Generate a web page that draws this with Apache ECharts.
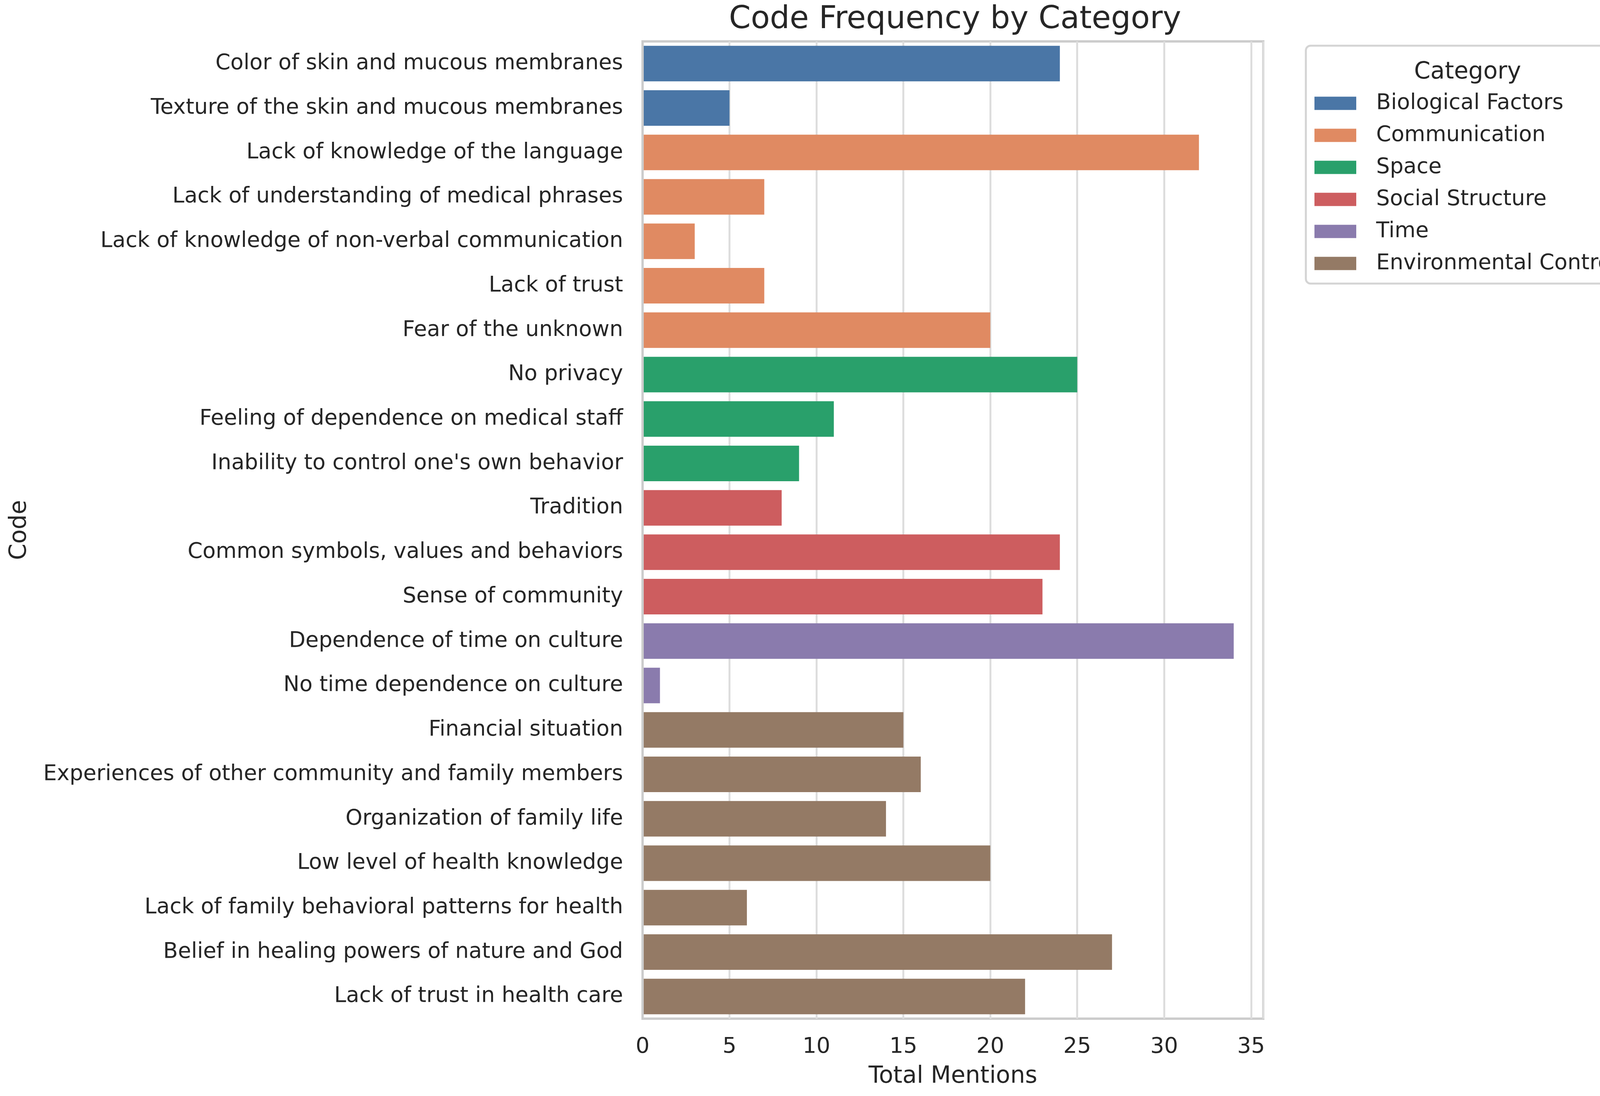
<!DOCTYPE html>
<html lang="en">
<head>
    <meta charset="UTF-8">
    <title>Code Frequency by Category</title>
    <script src="https://cdn.jsdelivr.net/npm/echarts@6/dist/echarts.min.js"></script>
    <style>
        html, body { margin: 0; padding: 0; background: #fff; }
        #main { width: 4184px; height: 2806px; }
    </style>
</head>
<body>
<div id="main"></div>

<script type="text/javascript">
    // codes, top to bottom
    var codes = [
        'Color of skin and mucous membranes',
        'Texture of the skin and mucous membranes',
        'Lack of knowledge of the language',
        'Lack of understanding of medical phrases',
        'Lack of knowledge of non-verbal communication',
        'Lack of trust',
        'Fear of the unknown',
        'No privacy',
        'Feeling of dependence on medical staff',
        "Inability to control one's own behavior",
        'Tradition',
        'Common symbols, values and behaviors',
        'Sense of community',
        'Dependence of time on culture',
        'No time dependence on culture',
        'Financial situation',
        'Experiences of other community and family members',
        'Organization of family life',
        'Low level of health knowledge',
        'Lack of family behavioral patterns for health',
        'Belief in healing powers of nature and God',
        'Lack of trust in health care'
    ];
    var codeCategory = [
        'Biological Factors', 'Biological Factors',
        'Communication', 'Communication', 'Communication', 'Communication', 'Communication',
        'Space', 'Space', 'Space',
        'Social Structure', 'Social Structure', 'Social Structure',
        'Time', 'Time',
        'Environmental Control', 'Environmental Control', 'Environmental Control',
        'Environmental Control', 'Environmental Control', 'Environmental Control',
        'Environmental Control'
    ];
    var mentions = [24, 5, 32, 7, 3, 7, 20, 25, 11, 9, 8, 24, 23, 34, 1, 15, 16, 14, 20, 6, 27, 22];

    var categories = ['Biological Factors', 'Communication', 'Space', 'Social Structure', 'Time', 'Environmental Control'];
    var colors = ['#4a76a6', '#e08a62', '#29a06b', '#cd5d5f', '#8a7bad', '#947a65'];

    var xTicks = [0, 5, 10, 15, 20, 25, 30, 35];

    var font = 'DejaVu Sans';
    var ink = '#262626';

    var myChart = echarts.init(document.getElementById('main'));

    // one series per category so the legend gets one entry each
    var series = [];
    for (var c = 0; c < categories.length; c++) {
        var vals = [];
        for (var i = 0; i < codes.length; i++) {
            vals.push(codeCategory[i] === categories[c] ? mentions[i] : '-');
        }
        series.push({
            name: categories[c],
            type: 'bar',
            data: vals,
            barGap: '-100%',
            barCategoryGap: '20%',
            itemStyle: { color: colors[c] },
            emphasis: { disabled: true }
        });
    }

    var option = {
        backgroundColor: '#ffffff',
        animation: false,
        textStyle: { fontFamily: font, color: ink },
        title: [{
            text: 'Code Frequency by Category',
            left: 2440,
            top: 6,
            textAlign: 'center',
            textStyle: { fontFamily: font, fontSize: 80, fontWeight: 'normal', color: ink }
        }, {
            text: 'Category',
            left: 3752,
            top: 150,
            textAlign: 'center',
            textStyle: { fontFamily: font, fontSize: 60, fontWeight: 'normal', color: ink }
        }],
        legend: {
            orient: 'vertical',
            left: 3343,
            top: 117,
            data: categories,
            icon: 'rect',
            itemWidth: 107,
            itemHeight: 34,
            itemGap: 27,
            padding: [120, 20, 24, 22],
            borderColor: '#d4d4d4',
            borderWidth: 5,
            borderRadius: 12,
            textStyle: {
                fontFamily: font, fontSize: 55, color: ink, lineHeight: 55,
                padding: [0, 0, 0, 46]
            }
        },
        grid: {
            left: 1645,
            right: 950,
            top: 106,
            bottom: 198,
            show: true,
            borderColor: '#cccccc',
            borderWidth: 6
        },
        xAxis: {
            type: 'value',
            min: 0,
            max: 35.7,
            interval: 5,
            name: 'Total Mentions',
            nameLocation: 'middle',
            nameGap: 118,
            nameTextStyle: { fontFamily: font, fontSize: 60, color: ink },
            axisLine: { show: false },
            axisTick: { show: false },
            axisLabel: {
                fontFamily: font, fontSize: 56, color: ink, margin: 44,
                showMaxLabel: false,
                formatter: function (v) { return xTicks.indexOf(v) >= 0 ? String(v) : ''; }
            },
            splitLine: { show: true, lineStyle: { color: '#dddddd', width: 5 } }
        },
        yAxis: {
            type: 'category',
            data: codes,
            inverse: true,
            z: 5,
            name: 'Code',
            nameLocation: 'middle',
            nameGap: 1565,
            nameTextStyle: { fontFamily: font, fontSize: 60, color: ink },
            axisLine: { show: true, lineStyle: { color: '#cccccc', width: 6 } },
            axisTick: { show: false },
            axisLabel: { fontFamily: font, fontSize: 55, color: ink, margin: 50, interval: 0 },
            splitLine: { show: false }
        },
        series: series
    };
    myChart.setOption(option);
</script>

</body>
</html>
